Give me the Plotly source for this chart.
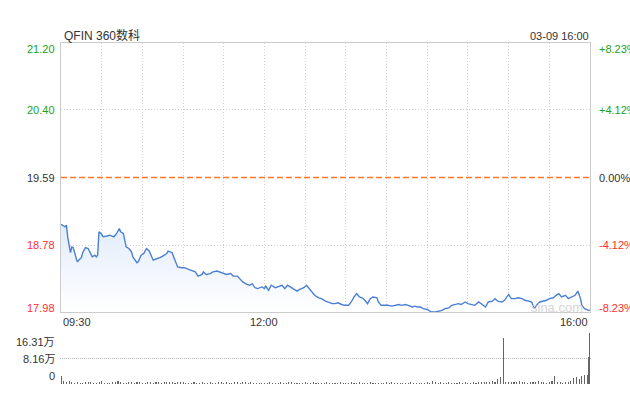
import plotly.graph_objects as go

# ---------------- data ----------------
title_text = "QFIN 360数科"
date_text = "03-09 16:00"
prev_close = 19.59

# minutes after 09:30 and last price
price_min = [0, 3, 4, 5, 7, 8, 9, 10, 12, 13, 15, 16, 18, 20, 21, 23, 25, 26, 27, 28,
             30, 31, 34, 36, 39, 41, 43, 44, 46, 48, 50, 52, 53, 56, 57, 59, 61, 63, 65, 67,
             68, 71, 73, 75, 78, 79, 82, 83, 85, 86, 89, 91, 94, 96, 99, 101, 104, 105, 107, 110,
             112, 115, 117, 120, 122, 125, 127, 130, 132, 134, 137, 139, 141, 143, 145, 148, 150, 151, 153, 155,
             158, 160, 163, 165, 167, 169, 171, 174, 176, 179, 181, 182, 185, 187, 190, 192, 195, 197, 200, 202,
             204, 207, 209, 212, 214, 216, 218, 220, 222, 224, 226, 228, 230, 233, 234, 236, 239, 241, 244, 246,
             249, 251, 254, 256, 259, 261, 263, 265, 267, 270, 273, 276, 278, 281, 283, 286, 288, 290, 293, 295,
             298, 300, 303, 305, 308, 310, 313, 315, 318, 320, 322, 325, 327, 330, 332, 335, 337, 340, 342, 345,
             347, 349, 351, 353, 356, 358, 360, 363, 365, 367, 369, 372, 374, 376, 379, 381, 383, 384, 386, 389,
             390]
price = [19.03, 19.00, 19.02, 18.87, 18.69, 18.76, 18.75, 18.69, 18.58, 18.60, 18.63, 18.69, 18.75, 18.74, 18.70, 18.64, 18.66, 18.64, 18.66, 18.94,
         18.91, 18.88, 18.89, 18.90, 18.88, 18.92, 18.98, 18.94, 18.92, 18.76, 18.74, 18.70, 18.64, 18.57, 18.58, 18.66, 18.68, 18.74, 18.71, 18.64,
         18.60, 18.62, 18.63, 18.65, 18.68, 18.71, 18.69, 18.64, 18.56, 18.52, 18.51, 18.51, 18.49, 18.48, 18.46, 18.41, 18.43, 18.46, 18.43, 18.44,
         18.46, 18.47, 18.46, 18.44, 18.43, 18.44, 18.41, 18.41, 18.38, 18.34, 18.31, 18.30, 18.32, 18.27, 18.26, 18.28, 18.26, 18.29, 18.24, 18.30,
         18.27, 18.28, 18.30, 18.26, 18.30, 18.28, 18.26, 18.23, 18.25, 18.27, 18.30, 18.28, 18.22, 18.18, 18.15, 18.14, 18.11, 18.10, 18.08, 18.08,
         18.09, 18.07, 18.06, 18.06, 18.10, 18.16, 18.20, 18.16, 18.15, 18.12, 18.08, 18.14, 18.16, 18.15, 18.10, 18.06, 18.06, 18.06, 18.05, 18.06,
         18.07, 18.06, 18.07, 18.06, 18.04, 18.05, 18.04, 18.04, 18.02, 18.01, 17.98, 17.98, 17.99, 18.00, 18.02, 18.03, 18.06, 18.07, 18.08, 18.07,
         18.10, 18.08, 18.07, 18.06, 18.10, 18.08, 18.04, 18.10, 18.11, 18.14, 18.11, 18.10, 18.12, 18.19, 18.14, 18.14, 18.15, 18.14, 18.12, 18.11,
         18.10, 18.02, 18.07, 18.10, 18.11, 18.12, 18.14, 18.15, 18.18, 18.20, 18.16, 18.18, 18.14, 18.16, 18.18, 18.23, 18.14, 18.06, 18.02, 18.00,
         18.00]

# volume (万) every 2 minutes from 09:30, then the last two minutes
vol_2min = [2.6, 0.9, 0.8, 0.9, 0.7, 0.4, 0.5, 0.4, 0.3, 0.6, 0.8, 0.7, 0.4, 0.3, 0.5, 0.9, 0.4, 0.3, 0.4, 0.5,
            0.7, 1.0, 0.5, 0.4, 0.3, 0.5, 0.6, 0.4, 0.7, 0.5, 0.4, 0.3, 0.5, 0.6, 0.4, 0.5, 0.7, 0.4, 0.6, 0.8,
            0.5, 0.7, 0.4, 0.6, 0.8, 0.5, 0.4, 0.3, 0.4, 0.5, 0.3, 0.4, 0.6, 0.4, 0.3, 0.5, 0.4, 0.3, 0.5, 0.6,
            0.4, 0.5, 0.3, 0.4, 0.6, 0.5, 0.4, 0.7, 0.5, 0.4, 0.6, 0.3, 0.4, 0.3, 0.3, 0.4, 0.3, 0.5, 0.4, 0.3,
            0.4, 0.6, 0.4, 0.3, 0.5, 0.6, 0.4, 0.3, 0.4, 0.3, 0.5, 0.4, 0.3, 0.6, 0.4, 0.3, 0.4, 0.3, 0.5, 0.4,
            0.3, 0.4, 0.3, 0.5, 0.4, 0.3, 0.4, 0.6, 0.4, 0.3, 0.5, 0.4, 0.3, 0.4, 0.5, 0.3, 0.4, 0.3, 0.4, 0.3,
            0.5, 0.4, 0.6, 0.3, 0.4, 0.3, 0.4, 0.3, 0.4, 0.5, 0.3, 0.4, 0.3, 0.4, 0.3, 0.5, 0.4, 1.1, 0.6, 0.4,
            0.5, 0.3, 0.4, 0.5, 0.4, 0.3, 0.4, 0.6, 0.4, 0.5, 0.3, 0.4, 0.6, 0.4, 0.5, 0.7, 0.5, 0.8, 0.6, 1.1,
            0.5, 1.6, 2.1, 14.7, 0.6, 0.7, 0.5, 0.8, 0.6, 0.9, 0.5, 0.6, 0.4, 0.7, 0.5, 0.6, 1.1, 0.5, 0.6, 0.4,
            0.7, 0.9, 2.7, 0.8, 0.5, 0.4, 0.6, 0.8, 1.0, 1.8, 2.3, 1.6, 2.7, 3.0, 3.0]
vol_last_min = [389, 390]
vol_last = [8.7, 16.31]

price_ticks = [21.20, 20.40, 19.59, 18.78, 17.98]
price_tick_text = ["21.20", "20.40", "19.59", "18.78", "17.98"]
pct_tick_text = ["+8.23%", "+4.12%", "0.00%", "-4.12%", "-8.23%"]
vol_ticks = [16.31, 8.16, 0]
vol_tick_text = ["16.31万", "8.16万", "0"]
time_ticks = [0, 150, 390]
time_tick_text = ["09:30", "12:00", "16:00"]

# ---------------- figure ----------------
W, H = 630, 397
FONT = "Liberation Sans, Arial, Noto Sans CJK SC, sans-serif"
GREEN = "#1ba31b"
RED = "#ff2d2d"
DARK = "#333333"
GRID = "#d0d0d0"

def px_x(p):
    return p / W

def px_y(p):
    return (H - p) / H

vol_min = [2 * i for i in range(len(vol_2min))] + vol_last_min
vol_val = vol_2min + vol_last

fig = go.Figure()

fig.add_trace(go.Scatter(
    x=price_min, y=price, mode="lines",
    line=dict(color="#4a7fd3", width=1.4),
    fill="tozeroy",
    fillgradient=dict(type="vertical",
                      colorscale=[[0, "rgba(255,255,255,1)"], [1, "rgba(226,236,250,1)"]],
                      start=min(price_ticks), stop=max(price)),
    hoverinfo="skip", xaxis="x", yaxis="y", showlegend=False,
))

# previous close dashed line
fig.add_trace(go.Scatter(
    x=[0, 390], y=[prev_close, prev_close], mode="lines",
    line=dict(color="rgb(255,120,40)", width=1.3, dash="6px,3px"),
    hoverinfo="skip", xaxis="x", yaxis="y", showlegend=False,
))

fig.add_trace(go.Bar(
    x=vol_min, y=vol_val, width=0.8,
    marker=dict(color="#666666", line=dict(width=0)),
    xaxis="x2", yaxis="y2", showlegend=False, hoverinfo="skip",
))

x0p, x1p = 61, 590
fig.update_layout(
    width=W, height=H,
    margin=dict(l=0, r=0, t=0, b=0),
    paper_bgcolor="white", plot_bgcolor="white",
    font=dict(family=FONT, size=11, color=DARK),
    bargap=0,
    xaxis=dict(domain=[px_x(x0p), px_x(x1p)], range=[0, 390], tick0=0, dtick=30,
               showgrid=True, gridcolor=GRID, griddash="1px,2px", gridwidth=1,
               showline=True, mirror=True, linecolor="#cccccc", linewidth=1,
               showticklabels=False, ticks="", zeroline=False, fixedrange=True),
    yaxis=dict(domain=[px_y(312), px_y(43)], range=[min(price_ticks), max(price_ticks)],
               tickvals=[price_ticks[1], price_ticks[3]],
               showgrid=True, gridcolor=GRID, griddash="1px,2px", gridwidth=1,
               showline=True, mirror=True, linecolor="#cccccc", linewidth=1,
               showticklabels=False, ticks="", zeroline=False, fixedrange=True),
    xaxis2=dict(domain=[px_x(x0p - 0.6), px_x(x1p + 0.6)], range=[-0.5, 390.5], anchor="y2",
                showgrid=False, showline=False, showticklabels=False, ticks="",
                zeroline=False, fixedrange=True),
    yaxis2=dict(domain=[px_y(384), px_y(333)], range=[0, vol_ticks[0]], anchor="x2",
                tickvals=vol_ticks[:2], showgrid=True, gridcolor="#bbbbbb", griddash="1px,1px",
                showline=False, showticklabels=False, ticks="", zeroline=False, fixedrange=True),
)

ann = []
# title & date
ann.append(dict(text=title_text, x=px_x(62), y=px_y(36), xref="paper", yref="paper",
                xanchor="left", yanchor="middle", showarrow=False,
                font=dict(size=12, color=DARK, family=FONT)))
ann.append(dict(text=date_text, x=px_x(591), y=px_y(36), xref="paper", yref="paper",
                xanchor="right", yanchor="middle", showarrow=False,
                font=dict(size=11, color=DARK, family=FONT)))

# price labels (left) and percent labels (right)
shifts = [-6, 0, -1, 0, 4]
colors = [GREEN, GREEN, DARK, RED, RED]
for v, t, pt, s, c in zip(price_ticks, price_tick_text, pct_tick_text, shifts, colors):
    ann.append(dict(text=t, x=px_x(57), y=v, xref="paper", yref="y", yshift=s,
                    xanchor="right", yanchor="middle", showarrow=False,
                    font=dict(size=11, color=c, family=FONT)))
    ann.append(dict(text=pt, x=px_x(597), y=v, xref="paper", yref="y", yshift=s,
                    xanchor="left", yanchor="middle", showarrow=False,
                    font=dict(size=11, color=c, family=FONT)))

# time labels
anchors = ["left", "center", "right"]
for v, t, a in zip(time_ticks, time_tick_text, anchors):
    ann.append(dict(text=t, x=v, y=px_y(322), xref="x", yref="paper",
                    xanchor=a, yanchor="middle", showarrow=False,
                    font=dict(size=11, color=DARK, family=FONT)))

# volume labels
vshifts = [-9, -1, 8]
for v, t, s in zip(vol_ticks, vol_tick_text, vshifts):
    ann.append(dict(text=t, x=px_x(57), y=v, xref="paper", yref="y2", yshift=s,
                    xanchor="right", yanchor="middle", showarrow=False,
                    font=dict(size=11, color=DARK, family=FONT)))

# watermark
ann.append(dict(text="sina.com", x=px_x(557), y=px_y(307), xref="paper", yref="paper",
                xanchor="center", yanchor="middle", showarrow=False,
                font=dict(size=13, color="#d6d6d6", family=FONT)))

fig.update_layout(annotations=ann)

fig.write_html("out.html", config={"displayModeBar": False, "staticPlot": True})

# remove the browser's default page margin so the figure fills the window exactly
with open("out.html", encoding="utf-8") as f:
    page = f.read()
page = page.replace("<head>", "<head><style>html,body{margin:0;padding:0;overflow:hidden;}</style>", 1)
with open("out.html", "w", encoding="utf-8") as f:
    f.write(page)
